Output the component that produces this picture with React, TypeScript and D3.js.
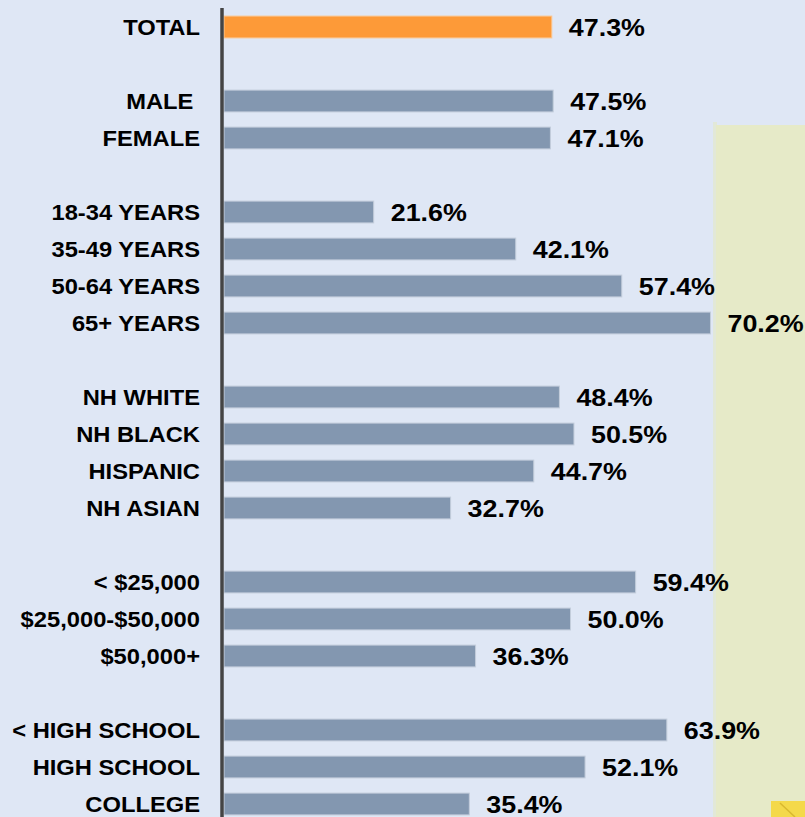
import React, { useEffect, useRef } from "react";
import * as d3 from "d3";

// rows of the chart; "" marks a blank spacer slot
const categories = [
  "TOTAL",
  "",
  "MALE ",
  "FEMALE",
  "",
  "18-34 YEARS",
  "35-49 YEARS",
  "50-64 YEARS",
  "65+ YEARS",
  "",
  "NH WHITE",
  "NH BLACK",
  "HISPANIC",
  "NH ASIAN",
  "",
  "< $25,000",
  "$25,000-$50,000",
  "$50,000+",
  "",
  "< HIGH SCHOOL",
  "HIGH SCHOOL",
  "COLLEGE",
];

const values = [
  47.3, null, 47.5, 47.1, null, 21.6, 42.1, 57.4, 70.2, null, 48.4, 50.5, 44.7,
  32.7, null, 59.4, 50.0, 36.3, null, 63.9, 52.1, 35.4,
];

const highlight = ["TOTAL"];

const W = 805;
const H = 817;
const FONT = "Liberation Sans, Arial, sans-serif";

export default function App() {
  const ref = useRef<SVGSVGElement>(null);

  useEffect(() => {
    const svg = d3.select(ref.current);
    svg.selectAll("*").remove();

    const rows = categories.map((c, i) => ({ key: i, label: c, value: values[i] }));

    // background
    svg.append("rect").attr("width", W).attr("height", H).attr("fill", "#dfe7f5");

    // yellowish panel at the right
    svg
      .append("rect")
      .attr("x", 713)
      .attr("y", 122)
      .attr("width", 4)
      .attr("height", H - 122)
      .attr("fill", "#e2e8d8");
    svg
      .append("rect")
      .attr("x", 716)
      .attr("y", 125)
      .attr("width", W - 716)
      .attr("height", H - 125)
      .attr("fill", "#e6eac8");

    // small gold note at bottom right
    svg
      .append("rect")
      .attr("x", 771)
      .attr("y", 801)
      .attr("width", 40)
      .attr("height", 20)
      .attr("fill", "#f4d94a");
    svg
      .append("line")
      .attr("x1", 780)
      .attr("y1", 803)
      .attr("x2", 795)
      .attr("y2", 817)
      .attr("stroke", "#d9b830")
      .attr("stroke-width", 1.5);

    const y = d3
      .scaleBand<number>()
      .domain(rows.map((r) => r.key))
      .range([8.5, 8.5 + 37 * rows.length])
      .paddingInner(0.41)
      .paddingOuter(0.205);

    const x = d3.scaleLinear().domain([0, 10]).range([224, 293.3]);

    const g = svg.append("g");

    const bars = rows.filter((r) => r.value !== null);

    g.selectAll("rect.bar")
      .data(bars)
      .enter()
      .append("rect")
      .attr("class", "bar")
      .attr("x", x(0))
      .attr("y", (d) => y(d.key)!)
      .attr("width", (d) => x(d.value as number) - x(0))
      .attr("height", y.bandwidth())
      .attr("fill", (d) => (highlight.includes(d.label) ? "#fd9a38" : "#8397b0"))
      .attr("stroke", (d) => (highlight.includes(d.label) ? "#fcc58c" : "#c3cddb"))
      .attr("stroke-width", 1);

    // value labels, slightly wide like the original
    g.selectAll("text.val")
      .data(bars)
      .enter()
      .append("text")
      .attr("class", "val")
      .attr(
        "transform",
        (d) =>
          `translate(${x(d.value as number) + 17},${y(d.key)! + y.bandwidth() / 2}) scale(1.12,1)`
      )
      .attr("dy", "0.36em")
      .attr("font-family", FONT)
      .attr("font-weight", "bold")
      .attr("font-size", 24)
      .attr("fill", "#000")
      .text((d) => (d.value as number).toFixed(1) + "%");

    g.selectAll("text.cat")
      .data(bars)
      .enter()
      .append("text")
      .attr("class", "cat")
      .attr(
        "transform",
        (d) => `translate(200,${y(d.key)! + y.bandwidth() / 2}) scale(1.055,1)`
      )
      .attr("dy", "0.36em")
      .attr("text-anchor", "end")
      .attr("font-family", FONT)
      .attr("font-weight", "bold")
      .attr("font-size", 22.5)
      .attr("fill", "#000")
      .style("white-space", "pre")
      .text((d) => d.label);

    // axis line
    svg
      .append("line")
      .attr("x1", 222)
      .attr("x2", 222)
      .attr("y1", 8)
      .attr("y2", H)
      .attr("stroke", "#444")
      .attr("stroke-width", 3.5);
  }, []);

  return (
    <svg
      ref={ref}
      width={W}
      height={H}
      style={{ position: "absolute", left: 0, top: 0, display: "block" }}
    />
  );
}
